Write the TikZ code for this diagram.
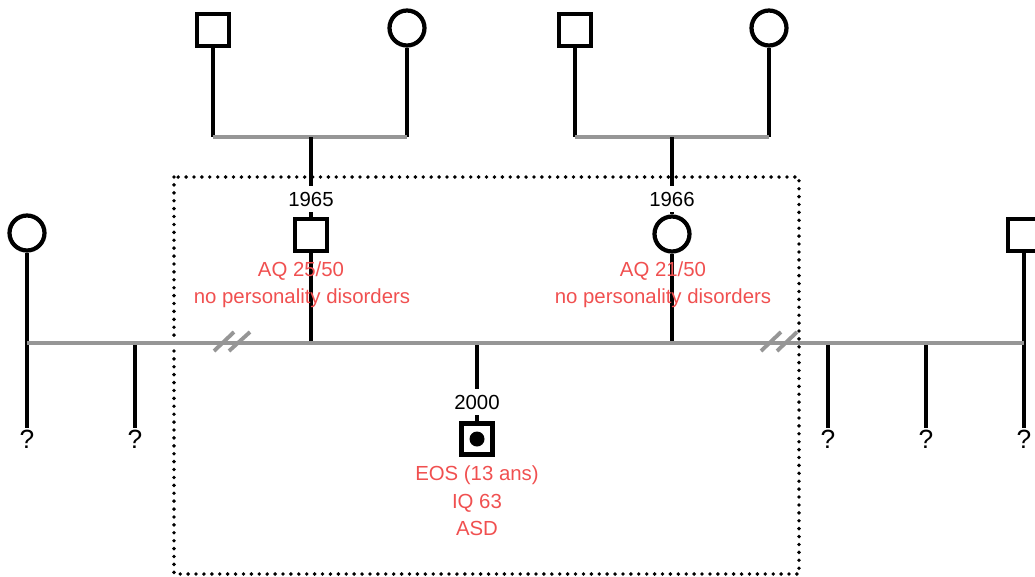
\documentclass[tikz,border=0pt]{standalone}
\usepackage{fontspec}
\setmainfont{Liberation Sans}
\definecolor{notered}{RGB}{240,80,80}
\definecolor{linegray}{RGB}{150,150,150}
\newcommand{\pedfont}{\fontsize{11.6pt}{13pt}\selectfont}
\newcommand{\qfont}{\fontsize{15pt}{17pt}\selectfont}
\tikzset{
  male/.style={draw, rectangle, line width=2.4pt, minimum size=0.63cm, inner sep=0pt, fill=white},
  female/.style={draw, circle, line width=2.4pt, minimum size=0.7cm, inner sep=0pt, fill=white},
  kin/.style={line width=2.3pt},
  marr/.style={line width=2.4pt, linegray},
  brk/.style={line width=2.2pt, linegray},
  yearlbl/.style={anchor=base, fill=white, inner sep=3.5pt, font=\pedfont},
  notelbl/.style={anchor=base, inner sep=0pt, text=notered, font=\pedfont},
  qlbl/.style={anchor=base, inner sep=1pt, font=\qfont},
  dotbox/.style={line width=2.2pt, line cap=round, dash pattern=on 0pt off 4.5pt}
}
\begin{document}
\begin{tikzpicture}[x=0.02cm, y=-0.02cm]
\useasboundingbox (0,0) rectangle (1035,576);

\draw[dotbox] (174,177) rectangle (799,574);

\node[male]   (pgf) at (213, 30) {};
\node[female] (pgm) at (407, 28) {};
\node[male]   (mgf) at (575, 30) {};
\node[female] (mgm) at (769, 28) {};

\coordinate (pL) at (213,137);
\coordinate (pR) at (407,137);
\coordinate (pC) at (311,137);
\coordinate (mL) at (575,137);
\coordinate (mR) at (769,137);
\coordinate (mC) at (672,137);

\draw[kin] (pgf) -- (pL);
\draw[kin] (pgm) -- (pR);
\draw[kin] (mgf) -- (mL);
\draw[kin] (mgm) -- (mR);
\draw[marr] (pL) -- (pR);
\draw[marr] (mL) -- (mR);

\node[male]   (dad)   at (311,235) {};
\node[female] (mum)   at (672,234) {};
\node[female] (aunt)  at ( 27,233) {};
\node[male]   (uncle) at (1024,235) {};
\node[male, line width=2.6pt] (proband) at (477,439) {};
\fill (proband) circle (0.15cm);

\coordinate (sibL) at ( 27,343);
\coordinate (sibR) at (1024,343);
\coordinate (sibD) at (311,343);
\coordinate (sibM) at (672,343);
\coordinate (sibP) at (477,343);

\node[qlbl] (q1) at ( 27,448) {?};
\node[qlbl] (q2) at (135,448) {?};
\node[qlbl] (q3) at (828,448) {?};
\node[qlbl] (q4) at (926,448) {?};
\node[qlbl] (q5) at (1024,448) {?};

\draw[kin] (pC) -- (dad);
\draw[kin] (mC) -- (mum);
\draw[kin] (dad) -- (sibD);
\draw[kin] (mum) -- (sibM);
\draw[kin] (sibP) -- (proband);
\draw[kin] (aunt) -- (aunt |- q1.north);
\draw[kin] (q2 |- sibL) -- (q2.north);
\draw[kin] (q3 |- sibL) -- (q3.north);
\draw[kin] (q4 |- sibL) -- (q4.north);
\draw[kin] (uncle) -- (uncle |- q5.north);
\draw[marr] (sibL) -- (sibR);

\draw[brk] (214,351) -- (234,332);
\draw[brk] (229,351) -- (250,332);
\draw[brk] (761,351) -- (781,332);
\draw[brk] (777,351) -- (797,332);

\node[yearlbl] (dadyear) at (311,206) {1965};
\node[yearlbl] (mumyear) at (672,206) {1966};
\node[yearlbl] (proyear) at (477,409) {2000};

\node[notelbl] (dadaq)  at (301,276) {AQ 25/50};
\node[notelbl] (dadpd)  at (302,303) {no personality disorders};
\node[notelbl] (mumaq)  at (663,276) {AQ 21/50};
\node[notelbl] (mumpd)  at (663,303) {no personality disorders};
\node[notelbl] (proeos) at (477,480) {EOS (13 ans)};
\node[notelbl] (proiq)  at (477,508) {IQ 63};
\node[notelbl] (proasd) at (477,535) {ASD};
\end{tikzpicture}
\end{document}
